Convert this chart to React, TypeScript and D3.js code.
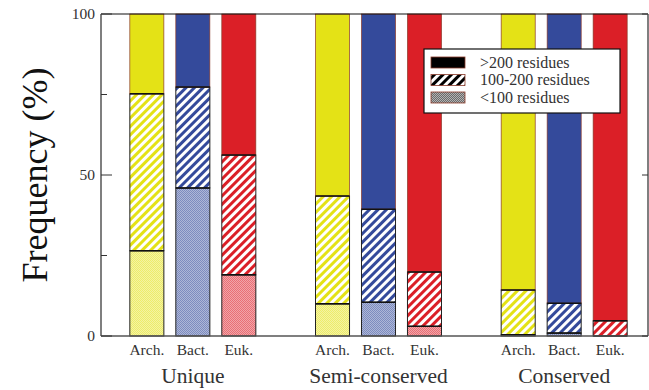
import React from 'react';
import * as d3 from 'd3';

const groups = ['Unique', 'Semi-conserved', 'Conserved'];
const species = ['Arch.', 'Bact.', 'Euk.'];
const speciesColors = ['#e4e216', '#344a9b', '#db1f27'];

// percentages per group, per species
const under100 = [
  [26.5, 46, 19],
  [10, 10.5, 3],
  [0.4, 0.9, 0],
];
const from100to200 = [
  [48.7, 31.3, 37.2],
  [33.5, 28.9, 16.9],
  [13.9, 9.3, 4.7],
];
const over200 = [
  [24.8, 22.7, 43.8],
  [56.5, 60.6, 80.1],
  [85.7, 89.8, 95.3],
];

const yTicks = [0, 50, 100];
const yMinorTicks = [25, 75];
const legendLabels = ['>200 residues', '100-200 residues', '<100 residues'];

const W = 649;
const H = 390;
const left = 101;
const right = 648;
const top = 14;
const bottom = 336;

const App = () => {
  const y = d3.scaleLinear().domain([0, 100]).range([bottom, top]);
  const xGroup = d3.scaleBand().domain(groups).range([100, 657]);
  const xSpecies = d3.scaleBand().domain(species).range([-63, 63]).paddingInner(0.26);
  const bw = xSpecies.bandwidth();
  const textColor = '#333';

  const kinds = ['checker', 'hatch', 'solid'];

  return (
    <svg width={W} height={H} style={{ position: 'absolute', left: 0, top: 0, fontFamily: "'Liberation Serif'" }}>
      <defs>
        {speciesColors.concat(['#000']).map((c, i) => (
          <React.Fragment key={i}>
            <pattern id={`hatch${i}`} width={6} height={6} patternUnits="userSpaceOnUse" patternTransform="rotate(45)">
              <rect width={6} height={6} fill="#fff" />
              <rect width={3} height={6} fill={c} />
            </pattern>
            <pattern id={`checker${i}`} width={2} height={2} patternUnits="userSpaceOnUse">
              <rect width={2} height={2} fill="#fff" />
              <rect width={2} height={2} fill={c} opacity={i === 3 ? 0.3 : 0.4} />
              <rect width={1} height={1} fill={c} opacity={0.4} />
              <rect x={1} y={1} width={1} height={1} fill={c} opacity={0.4} />
            </pattern>
          </React.Fragment>
        ))}
      </defs>

      {/* bars */}
      {groups.map((g, gi) =>
        species.map((s, si) => {
          const x0 = (xGroup(g) as number) + xGroup.bandwidth() / 2 + (xSpecies(s) as number);
          const vals = [under100[gi][si], from100to200[gi][si], over200[gi][si]];
          let acc = 0;
          return (
            <g key={g + s}>
              {vals.map((v, k) => {
                const y0 = acc;
                acc += v;
                const fill =
                  kinds[k] === 'solid' ? speciesColors[si] : `url(#${kinds[k]}${si})`;
                return (
                  <rect
                    key={k}
                    x={x0}
                    y={y(y0 + v)}
                    width={bw}
                    height={y(y0) - y(y0 + v)}
                    fill={fill}
                    stroke={kinds[k] === 'solid' ? '#8a3a2a' : '#222'}
                    strokeWidth={kinds[k] === 'solid' ? 0.7 : 1}
                  />
                );
              })}
              {[under100[gi][si], under100[gi][si] + from100to200[gi][si]].map((v, k) => (
                <line key={'b' + k} x1={x0} x2={x0 + bw} y1={y(v)} y2={y(v)} stroke="#111" strokeWidth={1.5} />
              ))}
              <text
                x={x0 + bw / 2}
                y={bottom + 19}
                textAnchor="middle"
                fontSize={15.5}
                fill={textColor}
              >
                {s}
              </text>
            </g>
          );
        })
      )}

      {/* frame */}
      <line x1={left} x2={right} y1={top} y2={top} stroke="#111" strokeWidth={1.2} />
      <line x1={left} x2={left} y1={top} y2={bottom} stroke="#555" strokeWidth={1.5} />
      <line x1={left} x2={right} y1={bottom} y2={bottom} stroke="#555" strokeWidth={1.5} />
      <line x1={right} x2={right} y1={top} y2={bottom} stroke="#555" strokeWidth={1.5} />

      {yTicks.map((t) => (
        <g key={t}>
          <line x1={left} x2={left + 11} y1={y(t)} y2={y(t)} stroke="#333" strokeWidth={1} />
          <line x1={right - 6} x2={right} y1={y(t)} y2={y(t)} stroke="#333" strokeWidth={1} />
          <text x={left - 6} y={y(t) + 5} textAnchor="end" fontSize={15.5} fill={textColor}>
            {t}
          </text>
        </g>
      ))}
      {yMinorTicks.map((t) => (
        <line key={t} x1={left} x2={left + 6} y1={y(t)} y2={y(t)} stroke="#333" strokeWidth={1} />
      ))}

      {groups.map((g) => (
        <text
          key={g}
          x={(xGroup(g) as number) + xGroup.bandwidth() / 2}
          y={383}
          textAnchor="middle"
          fontSize={21.5}
          fill={textColor}
        >
          {g}
        </text>
      ))}

      <text
        transform={`translate(47,${(top + bottom) / 2}) rotate(-90)`}
        textAnchor="middle"
        fontSize={36}
        fill="#111"
      >
        Frequency (%)
      </text>

      {/* legend */}
      <g transform="translate(424,49)">
        <rect width={196} height={64} fill="#fff" stroke="#111" strokeWidth={1.2} />
        {legendLabels.map((l, i) => {
          const fill = i === 0 ? '#000' : i === 1 ? 'url(#hatch3)' : 'url(#checker3)';
          const cy = 13 + i * 17.5;
          return (
            <g key={l}>
              <rect x={7} y={cy - 5} width={34} height={11} fill={fill} stroke="#8a3a2a" strokeWidth={0.8} />
              <text x={56} y={cy + 5.5} fontSize={16} fill={textColor}>
                {l}
              </text>
            </g>
          );
        })}
      </g>
    </svg>
  );
};

export default App;
